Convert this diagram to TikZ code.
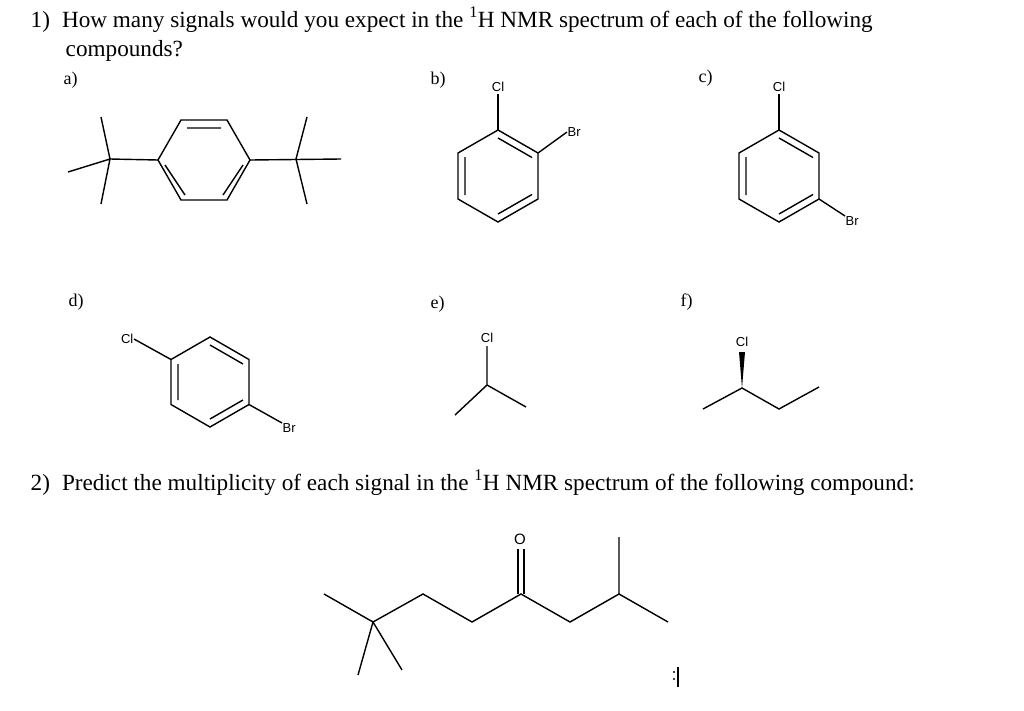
\documentclass[tikz,border=0pt]{standalone}
\usepackage{fontspec}
\setmainfont{Liberation Serif}
\newfontfamily\arial{Liberation Sans}
\begin{document}
\begin{tikzpicture}[x=1pt,y=-1pt,line width=1.4pt,
  txt/.style={font=\fontsize{23.2}{27}\selectfont,anchor=base west,inner sep=0},
  lab/.style={font=\fontsize{18}{21}\selectfont,anchor=base west,inner sep=0},
  atom/.style={font=\arial\fontsize{13}{15}\selectfont,inner sep=0}]
\useasboundingbox[fill=white] (0,0) rectangle (1024,710);
\node[txt] (t1) at (30,27) {1)\hspace{12pt}How many signals would you expect in the \textsuperscript{1}H NMR spectrum of each of the following};
\node[txt] (t2) at (65,56) {compounds?};
\node[lab] (la) at (63,84) {a)};
\node[lab] (lb) at (430,84) {b)};
\node[lab] (lc) at (698,82) {c)};
\node[lab] (ld) at (68,306) {d)};
\node[lab] (le) at (430,308) {e)};
\node[lab] (lf) at (680,306) {f)};
\node[txt] (t3) at (30,490) {2)\hspace{12pt}Predict the multiplicity of each signal in the \textsuperscript{1}H NMR spectrum of the following compound:};
% a
\draw (181,120)--(227,120)--(250,160)--(227,200)--(181,200)--(158,160)--cycle;
\draw (187,128)--(221,128) (243,165)--(223,195) (165,165)--(185,195);
\draw (110,159)--(158,160) (101,117)--(110,159)--(101,204) (68,172)--(110,159);
\draw (250,160)--(341,159) (307,117)--(296,159)--(307,204);
% b
\draw (498,130)--(538,153)--(538,199)--(498,222)--(458,199)--(458,153)--cycle;
\draw (498,138)--(532,157.5) (465,157)--(465,195) (498,214)--(532,194.5);
\node[atom] (clb) at (498,87) {Cl};
\draw (clb.south)+(0,2) -- (498,130);
\node[atom,anchor=west] (brb) at (567,132) {Br};
\draw (538,153)--(brb.west);
% c
\draw (779,130)--(819,153)--(819,199)--(779,222)--(739,199)--(739,153)--cycle;
\draw (779,138)--(813,157.5) (746,157)--(746,195) (779,214)--(813,194.5);
\node[atom] (clc) at (779,87) {Cl};
\draw (clc.south)+(0,2) -- (779,130);
\node[atom,anchor=north west] (brc) at (845,216) {Br};
\draw (819,199)--(brc.north west);
% d
\draw (210,337)--(249,359.5)--(249,404.5)--(210,427)--(171,404.5)--(171,359.5)--cycle;
\draw (210,345)--(243,364) (178,364)--(178,400) (210,419)--(243,400);
\node[atom,anchor=east] (cld) at (134,339) {Cl};
\draw (cld.east)--(171,359.5);
\node[atom,anchor=north west] (brd) at (282,423) {Br};
\draw (249,404.5)--(brd.north west);
% e
\node[atom] (cle) at (487,338) {Cl};
\draw (487,346)--(487,385) (455,415)--(487,385)--(526,407);
% f
\node[atom] (clf) at (742,342) {Cl};
\fill (739,352)--(745,352)--(742,388)--cycle;
\draw (703,409)--(742,388)--(779,409)--(819,387);
% main
\draw (324,594)--(373,622)--(423,594)--(472,622)--(521,594)--(570,622)--(619,594)--(668,622);
\draw (358,675)--(373,622)--(402,670) (619,537)--(619,594);
\draw (518,549)--(518,594) (524,549)--(524,594);
\node[atom,font=\arial\fontsize{15}{17}\selectfont] (o) at (520,539) {O};
\draw[line width=1.2pt] (678,667)--(678,687);
\fill (674,672) circle (1.2) (674,679) circle (1.2);
\end{tikzpicture}
\end{document}
